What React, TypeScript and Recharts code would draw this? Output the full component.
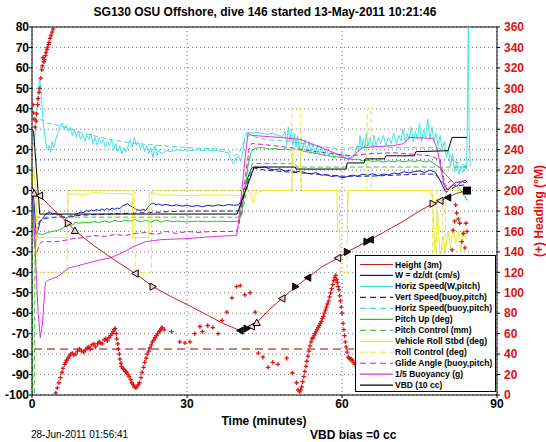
import React from "react";
import { ComposedChart, Line, Scatter, XAxis, YAxis, CartesianGrid, ReferenceLine, Legend } from "recharts";

const FONT = "'Liberation Sans', Arial, Helvetica, sans-serif";

const xTicks = [0, 30, 60, 90];
const leftTicks = [80, 70, 60, 50, 40, 30, 20, 10, 0, -10, -20, -30, -40, -50, -60, -70, -80, -90, -100];
const rightTicks = [0, 20, 40, 60, 80, 100, 120, 140, 160, 180, 200, 220, 240, 260, 280, 300, 320, 340, 360];

// [minutes, value]
const heightPts = [
  [0, 0], [0.4, -1.3], [1.5, -2.5], [4, -9], [7, -16], [8.3, -19.6], [12, -27], [16, -34], [20, -40.6],
  [23.4, -47], [27, -52], [30.6, -56.5], [34, -61], [37, -65], [40.3, -68.5], [41.6, -67.5], [42.5, -66.5],
  [43.5, -64.6], [46, -58], [48.4, -52.8], [51, -47], [53.4, -42.6], [56, -37.5], [59.2, -33], [61, -30],
  [64.8, -25], [65.5, -24], [68, -20.5], [72, -14.8], [75, -10], [77.6, -6.4], [79, -5], [80.5, -3.4],
  [82, -1.5], [84.2, 0],
];
const heightMarks = [
  "u", "u", "l", "", "r", "u", "", "", "l", "r", "", "", "", "", "L", "R", "l", "u", "", "l", "R", "L", "",
  "l", "R", "R", "L", "", "", "", "r", "l", "L", "", "s",
];

const wPts = [
  [0, 3], [0.4, -6], [0.8, -22], [1.2, -19], [1.6, -15], [2, -14], [2.5, -12], [3, -11], [3.5, -10.5], [4, -11.5],
  [4.5, -11], [5, -12], [5.5, -11.5], [6, -13], [6.5, -13.5], [7, -13], [7.5, -12.5], [8, -13], [8.5, -11.5],
  [9, -11], [9.5, -10.5], [10, -10.8], [10.5, -9.8], [11, -10.2], [11.5, -9.5], [12, -10], [12.5, -9.3],
  [13, -9.8], [13.5, -9], [14, -9.6], [14.5, -8.8], [15, -9.4], [15.5, -8.6], [16, -9.2], [16.5, -8.5],
  [17, -8.9], [17.5, -7.5], [18, -7], [18.5, -6.5], [19, -7.5], [19.5, -8], [20, -9], [20.5, -9.5], [21, -9.8],
  [21.5, -9.2], [22, -9.8], [22.5, -8], [23, -6.5], [23.5, -6.2], [24, -7], [24.5, -6.5], [25, -7.2], [26, -6.8],
  [27, -7.5], [28, -7], [29, -7.6], [30, -7.2], [31, -7.8], [32, -7.3], [33, -7.9], [34, -7.2], [35, -7.6],
  [36, -7], [37, -7.5], [38, -6.8], [39, -7.2], [40, -7], [40.5, -5], [41, -1], [41.5, 4], [42, 8], [42.5, 11],
  [43, 11.5], [44, 11.2], [45, 11.6], [46, 10.5], [47, 10.2], [48, 10.6], [49, 9.5], [50, 10], [51, 9],
  [52, 9.6], [53, 8.6], [54, 8.2], [55, 8.8], [56, 7.5], [57, 7.8], [58, 6.8], [59, 7.4], [60, 6.2], [61, 6.8],
  [62, 7.6], [63, 7], [64, 8], [65, 7.5], [66, 8.2], [67, 7.2], [68, 8.1], [69, 7.6], [70, 8.6], [71, 8.2],
  [72, 9.2], [73, 8.6], [74, 9.3], [75, 9.6], [76, 8.8], [77, 10], [78, 9], [78.8, 6], [79.5, 2], [80.2, -1],
  [80.8, 1], [81.5, 3], [82.2, 2], [83, 4], [83.8, 5], [84.3, 4],
];

const hspdPts = [
  [0.3, 22], [0.6, 28], [0.9, 38], [1.2, 48], [1.5, 55], [1.8, 46], [2.1, 36], [2.4, 28], [2.7, 23], [3, 20],
  [3.3, 22], [3.6, 19], [3.9, 24], [4.2, 21], [4.6, 25], [5, 28], [5.4, 31], [5.8, 33], [6.2, 30], [6.6, 32],
  [7, 29], [7.4, 31], [7.8, 27], [8.2, 30], [8.6, 26], [9, 29], [9.4, 25], [9.8, 28], [10.2, 24], [10.6, 27],
  [11, 25], [11.4, 28], [11.8, 23], [12.2, 26], [12.6, 22], [13, 26], [13.4, 23], [13.8, 25], [14.2, 21],
  [14.6, 24], [15, 22], [15.4, 25], [15.8, 20], [16.2, 23], [16.6, 19], [17, 22], [17.4, 18], [17.8, 21],
  [18.2, 19], [18.6, 22], [19, 25], [19.4, 21], [19.8, 26], [20.2, 22], [20.6, 24], [21, 20], [21.4, 23],
  [21.8, 19], [22.2, 22], [22.6, 18], [23, 21], [23.4, 16], [23.8, 22], [24.2, 17], [24.6, 20], [25, 18],
  [26, 19.5], [27, 19], [28, 20], [29, 19.5], [30, 20], [31, 19.5], [32, 20], [33, 19.5], [34, 20], [35, 19.5],
  [36, 19.5], [37, 19], [38, 18.5], [38.5, 15], [39, 13], [39.5, 16], [40, 17], [40.4, 14], [40.8, 19],
  [41.2, 26], [41.6, 28.5], [42.5, 28], [43.5, 28.5], [44.5, 28], [45.5, 27.5], [46.5, 28], [47.5, 27],
  [48.5, 26.5], [49, 29], [49.3, 22], [49.6, 31], [49.9, 24], [50.2, 30], [50.5, 22], [50.8, 28], [51.1, 21],
  [51.4, 27], [51.7, 20], [52, 26], [52.4, 20], [52.8, 25], [53.2, 19], [53.6, 24], [54, 19], [54.4, 23],
  [54.8, 18], [55.2, 22], [55.6, 18], [56, 21], [56.5, 17], [57, 20], [57.5, 17], [58, 19], [58.5, 16], [59, 18],
  [59.5, 17], [60, 19], [60.5, 16], [61, 17], [61.5, 16], [62, 17], [62.5, 18], [62.9, 22], [63.2, 19],
  [63.5, 27], [63.8, 20], [64.1, 25], [64.4, 21], [64.7, 28], [65, 22], [65.4, 26], [65.8, 21], [66.2, 27],
  [66.6, 22], [67, 26], [67.5, 23], [68, 27], [68.5, 22], [69, 26], [69.5, 23], [70, 28], [70.5, 23], [71, 27],
  [71.4, 24], [71.8, 30], [72.2, 24], [72.6, 28], [73, 25], [73.4, 31], [73.8, 24], [74.2, 29], [74.6, 25],
  [75, 33], [75.4, 24], [75.8, 30], [76.2, 26], [76.6, 35], [77, 25], [77.4, 31], [77.8, 24], [78.2, 28],
  [78.6, 22], [79, 27], [79.4, 20], [79.8, 24], [80.2, 16], [80.6, 20], [81, 12], [81.4, 18], [81.8, 9],
  [82.2, 14], [82.6, 8], [83, 12], [83.4, 9], [83.8, 12], [84.1, 10], [84.3, 40], [84.45, 85], [84.6, 30],
  [84.8, 12],
];

const vspdBuoyPts = [
  [0.6, -20], [1, -18], [1.5, -15], [2, -14], [3, -13.5], [5, -13], [10, -12], [15, -11.5], [20, -11],
  [25, -10.5], [30, -10], [35, -10], [40, -10], [40.5, -8], [41.5, 2], [42.5, 10], [43, 11], [45, 10], [50, 9],
  [55, 8], [60, 7], [65, 7], [70, 7.5], [75, 8], [78, 8], [79.5, 4], [80.5, 0], [82, 2], [84, 3],
];

const hspdBuoyPts = [
  [1.5, 35], [3, 33], [5, 32], [10, 28], [15, 25], [20, 23], [25, 22], [30, 21], [35, 20.5], [38, 20], [39, 17],
  [40, 18], [41, 24], [42, 27], [45, 25], [50, 24], [55, 22], [60, 20], [62, 21], [65, 22], [70, 21], [75, 21],
  [78, 21], [80, 20], [82, 14], [84, 12],
];

const pitchPts = [
  [0, 4], [0.2, -8], [0.5, -28], [0.8, -24], [1.2, -21], [2, -21.5], [3, -20.5], [4, -20], [5, -19.5],
  [6, -18.5], [6.5, -17], [7, -16], [7.5, -17], [8, -16.5], [8.5, -15.5], [9, -16], [10, -15.5], [11, -15.8],
  [12, -15.2], [13, -15.6], [14, -14.8], [15, -15.5], [16, -14.6], [17, -15.3], [18, -14.5], [19, -15],
  [20, -14.2], [21, -15.4], [22, -14.5], [23, -15.6], [24, -14.3], [25, -15.5], [26, -14.6], [27, -15.2],
  [28, -15], [30, -15.3], [32, -15], [34, -15.2], [36, -15], [38, -15.2], [40, -15], [40.5, -12], [41.2, 0],
  [41.8, 12], [42.4, 19], [43, 20.5], [44, 21], [45, 20.8], [46, 20.3], [47, 20.6], [48, 20], [49, 20.4],
  [50, 19.8], [51, 20.2], [52, 19.6], [53, 19], [54, 18.6], [55, 18.2], [56, 17.6], [57, 17.2], [58, 16.8],
  [59, 16.4], [60, 16.2], [61, 15.6], [62, 15.2], [63, 15.4], [64, 14.6], [65, 14.8], [66, 14.2], [67, 14.6],
  [68, 14], [69, 14.5], [70, 14.1], [71, 14.6], [72, 14], [73, 14.6], [74, 14.2], [75, 14.7], [76, 14.1],
  [77, 14.5], [78, 13], [79, 11], [80, 8], [80.8, 6], [81.5, 4], [82.3, 2], [83, 0], [83.8, -3], [84.3, -5],
];

const pitchCtlPts = [
  [0, 0], [0.15, -100], [0.45, -100], [0.6, -13], [40, -13], [40.6, -12], [42.6, 13.2], [51, 13.2],
  [51.2, 11.5], [84.5, 11.5],
];

const rollPts = [
  [0, 0], [0.3, 12], [0.7, 0], [1, -23], [6.8, -23], [7, -1.5], [10, -2], [12, -1], [15, -1.5], [19.4, -1.5],
  [19.5, -23], [22.6, -23], [22.7, -1], [25, -2], [30, -2.5], [35, -2], [40, -2.5], [40.5, -2], [41.5, 0],
  [42.3, -1], [42.8, -6], [43.3, -1], [45, 0], [50.3, 0], [50.4, 20], [52, 20], [52.1, 0], [59, 0], [59.2, -20],
  [61, -20], [61.2, 0], [65, 0], [70, 0], [77, 0], [77.5, -3], [78, -30], [78.5, -10], [79, -34], [79.5, -22],
  [80, -30], [80.5, -20], [81, -28], [81.5, -18], [82, -26], [82.5, -20], [83, -30], [83.5, -19], [84, -24],
];

const rollCtlPts = [
  [0, 0], [0.8, 0], [0.9, -40], [6.8, -40], [6.9, 0], [19.9, 0], [20, -40], [23.1, -40], [23.2, 0], [50.2, 0],
  [50.3, 40], [52, 40], [52.1, 0], [59.5, 0], [59.6, -40], [61, -40], [61.1, 0], [64.8, 0], [64.9, 40],
  [65.6, 40], [65.7, 0], [77.5, 0], [77.6, -40], [78.3, -40], [78.4, 0], [79.5, 0], [79.6, -40], [80, -40],
  [80.1, 0], [84, 0],
];

const glidePts = [
  [1, -30], [1.5, -26], [2, -25], [5, -25], [8, -23.5], [10, -23], [12, -22], [14, -22.5], [16, -21.5],
  [18, -22], [20, -21], [22, -20.5], [24, -21.5], [26, -20], [28, -21], [30, -20], [32, -20.5], [35, -20],
  [39.5, -20], [40, -18], [42, 20], [42.5, 23], [45, 22.5], [50, 21], [55, 19], [60, 17.5], [62, 17], [65, 18],
  [70, 18.5], [75, 17.5], [77, 17], [79, 15], [80, 2], [81, 5], [82, 4], [84, 4],
];

const buoyPts = [
  [0, 0], [0.3, -10], [0.8, -40], [1.2, -60], [1.6, -72], [2, -66], [2.3, -55], [2.6, -45], [3, -44], [4, -43],
  [5, -42], [6, -40], [7, -38], [10, -36], [13, -34], [15, -33], [17, -31], [20, -27], [22, -25], [25, -24],
  [30, -23.5], [35, -22.5], [39.6, -22], [40, -15], [41, 10], [41.8, 28], [42.5, 27], [45, 26.5], [48, 26],
  [52, 25], [55, 22], [58, 19], [61, 15.5], [62, 16], [63, 19], [64, 21], [70, 22], [72, 23], [73, 26],
  [77.6, 25.5], [78.5, 20], [79.2, 10], [80, 0], [81, 2], [82, 4], [84, 5],
];

const vbdPts = [
  [0, 30], [0.3, 29], [1.5, -11.5], [39.7, -11.5], [43, 11.5], [51, 11.5], [51.1, 10.5], [60.8, 10.5],
  [61, 13.5], [64.3, 13.5], [64.5, 15.5], [68.2, 15.5], [68.5, 17], [74, 17], [74.3, 19], [80.5, 19.5],
  [81.3, 26], [84.2, 26],
];

// [minutes, heading deg]
const headingPts = [
  [0.2, 284], [0.3, 276], [0.4, 270], [0.6, 262], [0.8, 268], [0.9, 275], [1.1, 284], [1.2, 290], [1.4, 296],
  [1.5, 300], [1.7, 310], [1.9, 318], [2, 322], [2.1, 330], [2.3, 326], [2.4, 328], [2.6, 332], [2.7, 335],
  [2.9, 338], [3, 340], [3.2, 343], [3.3, 345], [3.5, 349], [3.7, 352], [3.9, 355], [4.1, 358], [4.4, 362],
  [4.6, 2], [4.9, 7], [5.2, 12], [5.5, 17], [5.8, 22], [6, 26], [6.3, 30], [6.5, 32], [6.7, 34], [7, 36],
  [7.2, 38], [7.5, 40], [7.8, 41], [8.1, 39], [8.5, 40], [8.8, 43], [9.2, 45], [9.6, 43], [10, 42], [10.3, 44],
  [10.7, 46], [11, 47], [11.3, 45], [11.6, 49], [12, 50], [12.3, 47], [12.7, 50], [13, 52], [13.3, 51],
  [13.6, 50], [14, 54], [14.3, 55], [14.6, 53], [14.9, 56], [15.2, 58], [15.5, 60], [15.7, 62], [15.9, 64],
  [16.1, 65], [16.3, 60], [16.4, 55], [16.6, 50], [16.7, 45], [16.9, 40], [17, 35], [17.2, 31], [17.3, 28],
  [17.6, 26], [17.8, 25], [18.1, 23], [18.3, 22], [18.6, 20], [18.8, 18], [19.1, 15], [19.3, 12], [19.6, 10],
  [19.8, 8], [20.1, 7], [20.3, 8], [20.6, 10], [20.8, 12], [21.1, 17], [21.3, 22], [21.6, 27], [21.8, 32],
  [22.1, 36], [22.3, 40], [22.6, 43], [22.8, 46], [23.1, 49], [23.3, 52], [23.6, 54], [23.8, 56], [24.1, 58],
  [24.3, 60], [24.6, 62], [24.8, 63], [25, 65], [25.2, 66], [25.6, 64],
  [27, 62], [28.6, 52], [29.6, 51], [30.6, 52], [31.5, 60], [32.5, 67], [33, 62], [34, 68], [35, 66], [36, 60],
  [36.8, 73], [37.7, 81], [38.7, 95], [39.6, 106], [40.3, 107], [41.2, 98], [42.2, 100], [43.2, 81],
  [43.8, 41], [44.7, 37], [45.7, 27], [46.6, 32], [47.6, 30], [49.3, 36], [50.4, 21.5], [51.2, 12], [51.5, 5],
  [51.8, 3], [52, 5], [52.2, 8], [52.4, 13], [52.6, 18], [52.8, 23], [53, 28], [53.2, 33], [53.4, 38],
  [53.6, 43], [53.8, 48], [54, 52], [54.2, 55], [54.4, 56], [54.6, 58], [54.8, 60], [55, 62], [55.2, 64],
  [55.4, 66], [55.6, 68], [55.8, 70], [56, 72], [56.2, 75], [56.4, 77], [56.6, 80], [56.8, 83], [57, 86],
  [57.2, 89], [57.4, 92], [57.6, 96], [57.8, 100], [58, 104], [58.2, 108], [58.4, 112], [58.6, 115], [58.8, 117],
  [58.95, 113], [59.1, 110], [59.25, 106], [59.4, 103], [59.55, 97], [59.7, 92], [59.85, 86], [60, 80],
  [60.2, 70], [60.35, 64], [60.5, 58], [60.65, 52], [60.8, 47], [61, 42], [61.2, 37], [61.4, 36], [61.6, 35],
  [61.8, 35], [62, 34], [62.2, 32], [62.5, 30],
  [81.3, 142], [81.5, 161], [81.8, 170], [82, 186], [82.2, 178], [82.5, 172], [82.8, 168], [83.2, 150],
  [83.5, 158], [83.8, 144], [84, 168], [84.2, 160],
];

const rows = (pts: number[][]) => pts.map(([t, v]) => ({ t, v }));
const heightRows = heightPts.map(([t, v], i) => ({ t, v, m: heightMarks[i] }));
const headingRows = headingPts.map(([t, h]) => ({ t, h }));

const series = [
  { name: "Height (3m)", pts: heightPts, color: "#c81c1c", dash: false },
  { name: "W = dz/dt (cm/s)", pts: wPts, color: "#1414cc", dash: false },
  { name: "Horiz Speed(W,pitch)", pts: hspdPts, color: "#3ee6e6", dash: false },
  { name: "Vert Speed(buoy,pitch)", pts: vspdBuoyPts, color: "#1f1f8f", dash: true },
  { name: "Horiz Speed(buoy,pitch)", pts: hspdBuoyPts, color: "#48d4de", dash: true },
  { name: "Pitch Up (deg)", pts: pitchPts, color: "#22c822", dash: false },
  { name: "Pitch Control (mm)", pts: pitchCtlPts, color: "#44c044", dash: true },
  { name: "Vehicle Roll Stbd (deg)", pts: rollPts, color: "#eeee22", dash: false },
  { name: "Roll Control (deg)", pts: rollCtlPts, color: "#e6e640", dash: true },
  { name: "Glide Angle (buoy,pitch)", pts: glidePts, color: "#c020c0", dash: true },
  { name: "1/5 Buoyancy (g)", pts: buoyPts, color: "#e030e0", dash: false },
  { name: "VBD (10 cc)", pts: vbdPts, color: "#000000", dash: false },
];

function HeightMarker(props: any) {
  const { cx, cy, payload, index } = props;
  const m = payload && payload.m;
  if (!m || cx == null || cy == null) return <g key={index} />;
  if (m === "s") return <rect key={index} x={cx - 4} y={cy - 4} width={8} height={8} fill="#000" />;
  const s = 3.6;
  const k = m.toLowerCase();
  let d = "";
  if (k === "u") d = `M${cx},${cy - s}L${cx + s},${cy + s * 0.8}L${cx - s},${cy + s * 0.8}Z`;
  if (k === "l") d = `M${cx - s},${cy}L${cx + s * 0.8},${cy - s}L${cx + s * 0.8},${cy + s}Z`;
  if (k === "r") d = `M${cx + s},${cy}L${cx - s * 0.8},${cy - s}L${cx - s * 0.8},${cy + s}Z`;
  const filled = m !== k;
  return <path key={index} d={d} fill={filled ? "#111" : "#f2d2c8"} stroke="#000" strokeWidth={1} />;
}

function Plus(props: any) {
  const { cx, cy } = props;
  if (cx == null || cy == null) return <g />;
  return <path d={`M${cx - 2.2},${cy}H${cx + 2.2}M${cx},${cy - 2.2}V${cy + 2.2}`} stroke="#e01414" strokeWidth={1.3} />;
}

function LegendBox() {
  return (
    <div style={{ width: 141, height: 137, background: "#fff", border: "1px solid #000", boxSizing: "border-box" }}>
      <svg width={139} height={135} style={{ display: "block" }}>
        {series.map((s, i) => {
          const y = 8.5 + i * 10.97;
          return (
            <g key={s.name}>
              <line x1={4} x2={37} y1={y} y2={y} stroke={s.color} strokeWidth={1.2} strokeDasharray={s.dash ? "6 4" : undefined} />
              <text x={39} y={y + 3} fontSize={8.5} fontWeight="bold" fontFamily={FONT} fill="#000">{s.name}</text>
            </g>
          );
        })}
      </svg>
    </div>
  );
}

const tickStyle = { fontSize: 12, fontWeight: "bold", fill: "#000", fontFamily: FONT };

export default function App() {
  return (
    <div style={{ position: "absolute", left: 0, top: 0, width: 546, height: 442, background: "#fff", fontFamily: FONT }}>
      <ComposedChart width={546} height={442} margin={{ top: 27, right: 0, bottom: 0, left: 0 }}>
        <CartesianGrid yAxisId="left" stroke="#777" strokeDasharray="1 3" />
        <XAxis
          dataKey="t"
          type="number"
          domain={[0, 90]}
          ticks={xTicks}
          interval={0}
          allowDataOverflow
          height={47}
          tickSize={3}
          tickMargin={1}
          axisLine={{ stroke: "#000" }}
          tickLine={{ stroke: "#000" }}
          tick={tickStyle}
        />
        <YAxis
          yAxisId="left"
          type="number"
          domain={[-100, 80]}
          ticks={leftTicks}
          interval={0}
          allowDataOverflow
          width={32}
          tickSize={3}
          tickMargin={0}
          axisLine={{ stroke: "#000" }}
          tickLine={{ stroke: "#000" }}
          tick={tickStyle}
        />
        <YAxis
          yAxisId="right"
          orientation="right"
          dataKey="h"
          type="number"
          domain={[0, 360]}
          ticks={rightTicks}
          interval={0}
          allowDataOverflow
          width={49}
          tickSize={3}
          tickMargin={4}
          axisLine={{ stroke: "#000" }}
          tickLine={{ stroke: "#000" }}
          tick={{ ...tickStyle, fill: "#e01010" }}
        />
        <ReferenceLine yAxisId="left" y={80} stroke="#000" />
        <ReferenceLine yAxisId="left" y={15} stroke="#2020a0" strokeDasharray="1 3" />
        <ReferenceLine yAxisId="right" y={45} stroke="#b85a50" strokeWidth={1.5} strokeDasharray="8 5" />
        <Scatter
          yAxisId="right"
          data={headingRows}
          dataKey="h"
          shape={Plus}
          legendType="none"
          isAnimationActive={false}
        />
        {series.slice(1).map((s) => (
          <Line
            key={s.name}
            yAxisId="left"
            type="linear"
            data={rows(s.pts)}
            dataKey="v"
            name={s.name}
            stroke={s.color}
            strokeWidth={1}
            strokeDasharray={s.dash ? "5 3" : undefined}
            dot={false}
            activeDot={false}
            isAnimationActive={false}
          />
        ))}
        <Line
          yAxisId="left"
          type="linear"
          data={heightRows}
          dataKey="v"
          name={series[0].name}
          stroke={series[0].color}
          strokeWidth={1}
          dot={HeightMarker}
          activeDot={false}
          isAnimationActive={false}
        />
        <Legend
          layout="vertical"
          align="center"
          verticalAlign="middle"
          wrapperStyle={{ left: 355, top: 255, width: 141, height: 137 }}
          content={() => <LegendBox />}
        />
      </ComposedChart>
      <div style={{ position: "absolute", left: 0, width: 530, top: 5, textAlign: "center", fontWeight: "bold", fontSize: 12, lineHeight: "14px" }}>
        SG130 OSU Offshore, dive 146 started 13-May-2011 10:21:46
      </div>
      <div style={{ position: "absolute", left: 164, width: 200, top: 414, textAlign: "center", fontWeight: "bold", fontSize: 12, lineHeight: "14px" }}>
        Time (minutes)
      </div>
      <div style={{ position: "absolute", left: 31, top: 429, fontSize: 10, lineHeight: "12px" }}>28-Jun-2011 01:56:41</div>
      <div style={{ position: "absolute", left: 310, top: 428, fontSize: 12, fontWeight: "bold", lineHeight: "14px" }}>VBD bias =0 cc</div>
      <div
        style={{
          position: "absolute",
          left: 539,
          top: 211,
          transform: "translate(-50%, -50%) rotate(-90deg)",
          whiteSpace: "nowrap",
          color: "#e01010",
          fontWeight: "bold",
          fontSize: 12,
          lineHeight: "14px",
        }}
      >
        (+) Heading (°M)
      </div>
    </div>
  );
}
